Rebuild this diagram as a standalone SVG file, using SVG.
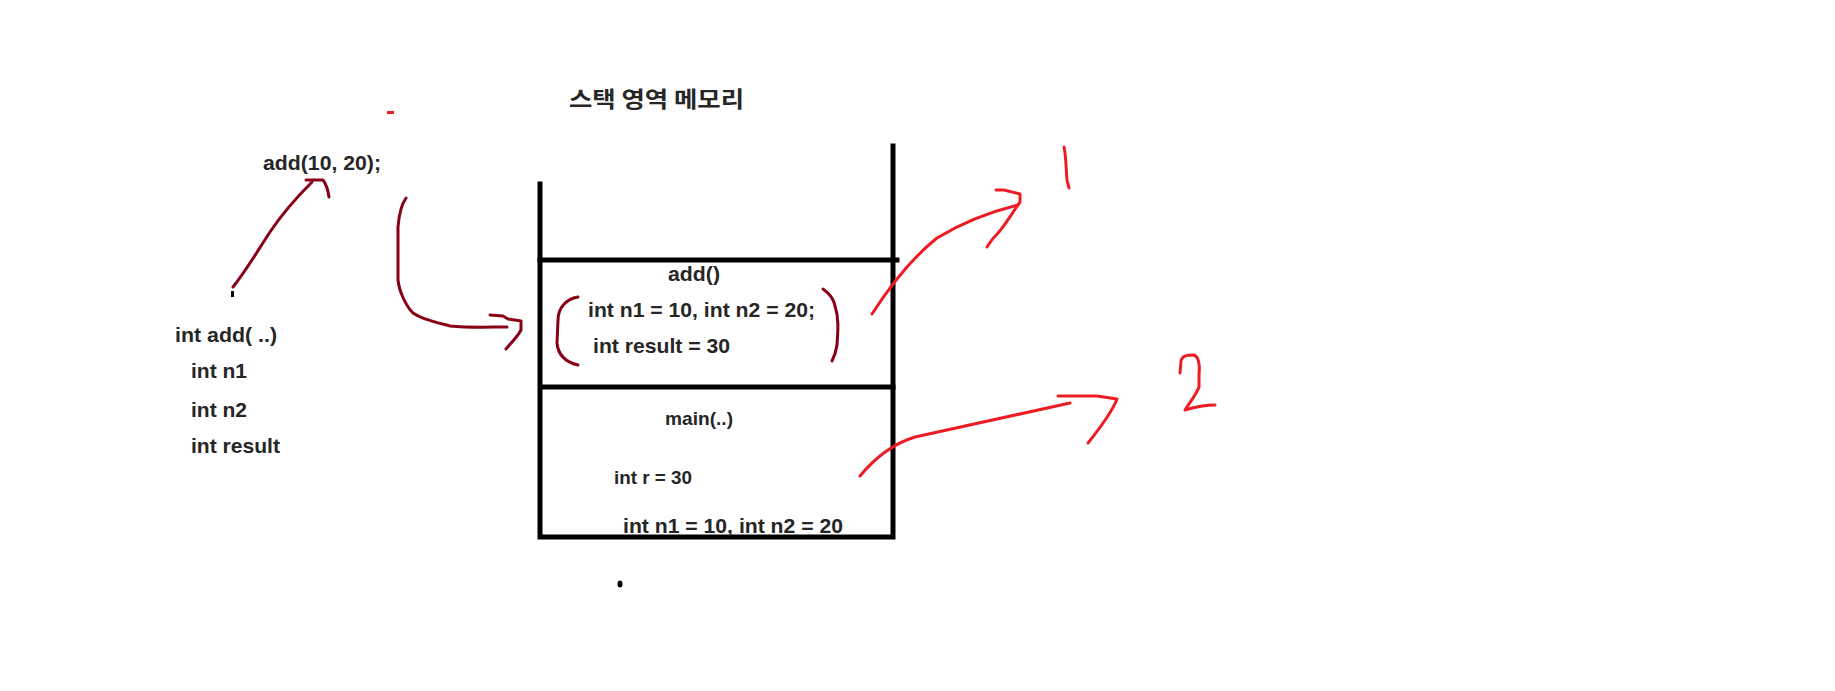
<svg xmlns="http://www.w3.org/2000/svg" width="1835" height="691" viewBox="0 0 1835 691">
<style>
  .t { font-family: "Liberation Sans", Arial, sans-serif; font-weight: bold; fill: #262626; font-size: 21px; }
  .ts { font-size: 19px; }
  .kr { font-family: "Noto Sans CJK KR", "Liberation Sans", sans-serif; font-weight: bold; fill: #262626; font-size: 22px; }
  .wall { stroke: #000; stroke-width: 5; fill: none; stroke-linecap: square; }
  .dr { stroke: #880015; stroke-width: 3; fill: none; stroke-linecap: round; stroke-linejoin: round; }
  .rd { stroke: #ED1C24; stroke-width: 3; fill: none; stroke-linecap: round; stroke-linejoin: round; }
</style>
<rect width="1835" height="691" fill="#fff"/>

<g id="title">
  <text class="kr" x="569" y="107" textLength="175" lengthAdjust="spacingAndGlyphs">스택 영역 메모리</text>
</g>

<g id="call">
  <text class="t" x="263" y="170" textLength="118" lengthAdjust="spacingAndGlyphs">add(10, 20);</text>
</g>

<g id="signature">
  <text class="t" x="175" y="342" textLength="102" lengthAdjust="spacingAndGlyphs">int add( ..)</text>
  <text class="t" x="191" y="378" textLength="56" lengthAdjust="spacingAndGlyphs">int n1</text>
  <text class="t" x="191" y="417" textLength="56" lengthAdjust="spacingAndGlyphs">int n2</text>
  <text class="t" x="191" y="453" textLength="89" lengthAdjust="spacingAndGlyphs">int result</text>
</g>

<g id="stack">
  <path class="wall" d="M540,184 V537 H893 V146"/>
  <line class="wall" x1="540" y1="260" x2="897" y2="260"/>
  <line class="wall" x1="542" y1="387" x2="893" y2="387"/>
</g>

<g id="frame-add">
  <text class="t" x="668" y="281" textLength="52" lengthAdjust="spacingAndGlyphs">add()</text>
  <text class="t" x="588" y="317" textLength="227" lengthAdjust="spacingAndGlyphs">int n1 = 10, int n2 = 20;</text>
  <text class="t" x="593" y="353" textLength="137" lengthAdjust="spacingAndGlyphs">int result = 30</text>
  <path class="dr" d="M578,297 C566,299 558,308 558,320 L557,343 C558,354 565,362 578,365"/>
  <path class="dr" d="M823,289 C830,294 834,300 835,306 C839,318 838,330 837,345 C836,352 834,357 832,361"/>
</g>

<g id="frame-main">
  <text class="t ts" x="665" y="425" textLength="68" lengthAdjust="spacingAndGlyphs">main(..)</text>
  <text class="t ts" x="614" y="484" textLength="78" lengthAdjust="spacingAndGlyphs">int r = 30</text>
  <text class="t" x="623" y="533" textLength="220" lengthAdjust="spacingAndGlyphs">int n1 = 10, int n2 = 20</text>
</g>

<g id="marks">
  <rect x="387" y="111" width="7" height="3" fill="#ED1C24"/>
  <rect x="231" y="291" width="3" height="6" fill="#000"/>
  <ellipse cx="620" cy="584" rx="2.5" ry="3.5" fill="#000"/>
  <path class="rd" d="M1064,147 C1066,155 1066,168 1067,180 L1069,188"/>
  <path class="rd" d="M1180,373 L1181,361 C1182,356 1186,355 1194,355 C1199,357 1200,364 1199,375 L1199,387 C1196,395 1190,402 1185,410 C1195,407 1205,405 1215,405"/>
</g>

<g id="connectors">
  <path class="dr" d="M233,287 C248,268 258,250 270,232 C282,214 296,198 312,182"/>
  <path class="dr" d="M306,180 L323,180 C326,184 328,190 329,197"/>
  <path class="dr" d="M406,198 C401,205 399,215 398,227 L398,280 C399,290 405,305 413,313 C420,318 428,320 450,326 C470,328 490,327 507,327"/>
  <path class="dr" d="M490,315 L503,316 L508,319 L521,321 L521,330 C518,336 512,342 506,349"/>
  <path class="rd" d="M872,314 C890,286 912,258 937,238 C960,224 990,212 1018,205"/>
  <path class="rd" d="M996,190 L1004,190 L1020,194 L1020,202 C1012,213 1006,224 998,233 C993,238 990,242 987,247"/>
  <path class="rd" d="M860,476 C874,459 892,444 915,437 C955,428 1000,418 1070,403"/>
  <path class="rd" d="M1058,396 L1097,396 L1117,399 C1112,412 1100,428 1088,443"/>
</g>
</svg>
